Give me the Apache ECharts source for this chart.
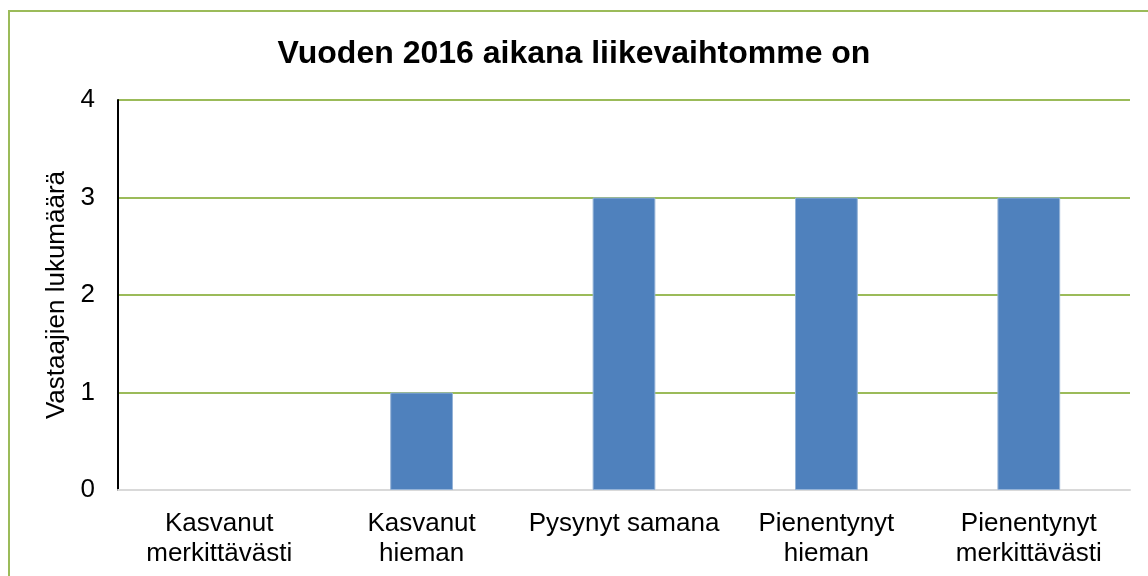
<!DOCTYPE html>
<html>
<head>
<meta charset="utf-8">
<script src="https://cdn.jsdelivr.net/npm/echarts@6/dist/echarts.min.js"></script>
<style>
  html, body { margin: 0; padding: 0; background: #fff; }
  #chart { width: 1148px; height: 576px; }
</style>
</head>
<body>
<div id="chart"></div>
<script>
  // kategoriat ja vastaajien määrät
  const categories = [
    'Kasvanut\nmerkittävästi',
    'Kasvanut\nhieman',
    'Pysynyt samana',
    'Pienentynyt\nhieman',
    'Pienentynyt\nmerkittävästi'
  ]
  const counts = [0, 1, 3, 3, 3]
  const yTicks = [0, 1, 2, 3, 4]

  const chartInstance = echarts.init(document.getElementById('chart'))
  const font = 'Liberation Sans, Arial, sans-serif'
  const option = {
    animation: false,
    title: {
      text: 'Vuoden 2016 aikana liikevaihtomme on',
      left: 'center',
      top: 33,
      textStyle: {
        fontFamily: font,
        fontWeight: 'bold',
        fontSize: 32,
        color: '#000'
      }
    },
    // ulkoreunus
    graphic: [{
      type: 'rect',
      shape: { x: 9, y: 11, width: 1200, height: 620 },
      style: { fill: 'none', stroke: '#9BBB59', lineWidth: 2 },
      silent: true
    }],
    grid: {
      left: 118,
      right: 18,
      top: 100,
      bottom: 86
    },
    xAxis: {
      type: 'category',
      data: categories,
      axisLine: { show: true, lineStyle: { color: '#D9D9D9', width: 2 } },
      axisTick: { show: false },
      axisLabel: {
        interval: 0,
        margin: 19,
        fontFamily: font,
        fontSize: 26,
        lineHeight: 30,
        color: '#000'
      }
    },
    yAxis: {
      type: 'value',
      min: yTicks[0],
      max: yTicks[yTicks.length - 1],
      interval: 1,
      name: 'Vastaajien lukumäärä',
      nameLocation: 'middle',
      nameGap: 47,
      nameRotate: 90,
      nameTextStyle: {
        fontFamily: font,
        fontSize: 26,
        color: '#000'
      },
      axisLine: { show: true, lineStyle: { color: '#000', width: 2 } },
      axisTick: { show: false },
      axisLabel: {
        margin: 23,
        fontFamily: font,
        fontSize: 26,
        color: '#000'
      },
      splitLine: { lineStyle: { color: '#9BBB59', width: 2 } }
    },
    series: [{
      type: 'bar',
      // nollapalkille ei reunaviivaa
      data: counts.map(v => v === 0 ? { value: v, itemStyle: { borderWidth: 0 } } : v),
      barWidth: '31%',
      itemStyle: {
        color: '#4F81BD',
        borderColor: '#95B3D7',
        borderWidth: 1
      }
    }]
  }
  chartInstance.setOption(option)
</script>
</body>
</html>
